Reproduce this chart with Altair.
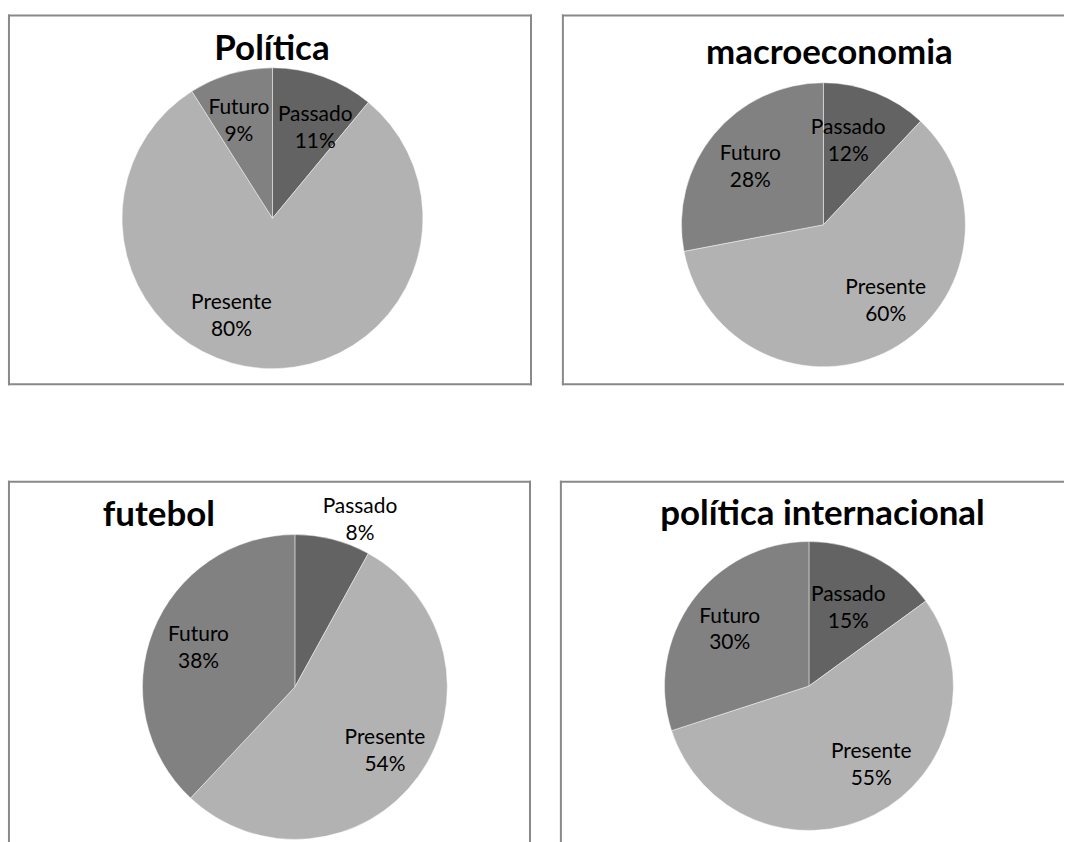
import altair as alt
import pandas as pd

# ---- data ----
titles = ["Política", "macroeconomia", "futebol", "política internacional"]
categories = ["Passado", "Presente", "Futuro"]
politica = [11, 80, 9]
macroeconomia = [12, 60, 28]
futebol = [8, 54, 38]
politica_internacional = [15, 55, 30]
series = [politica, macroeconomia, futebol, politica_internacional]

# ---- style / layout ----
colors = ["#636363", "#b2b2b2", "#818181"]
BORDER = "#898989"
FONT = "Lato"
layout = [
    dict(w=526, h=372, cx=265.5, cy=204.5, r=151, tx=265, ty=46,
         frac=[0.66, 0.71, 0.68], nudge=[5.7, 19, -3], sides=["top", "left", "right", "bottom"]),
    dict(w=504, h=372, cx=262.5, cy=211, r=142.5, tx=268.5, ty=50,
         frac=[0.61, 0.70, 0.65], nudge=[-5, -10, -2], sides=["top", "left", "bottom"]),
    dict(w=525, h=364, cx=288, cy=207, r=153, tx=151.5, ty=45,
         frac=[1.17, 0.73, 0.68], nudge=[7, 0, 0], sides=["top", "left", "right"]),
    dict(w=506, h=364, cx=250, cy=206, r=145, tx=263.5, ty=44,
         frac=[0.60, 0.70, 0.67], nudge=[0, -11, -1], sides=["top", "left"]),
]


def borders(W, H, sides):
    d = pd.DataFrame({"k": [0]})
    rule = dict(color=BORDER, strokeWidth=2, strokeCap="square")
    out = []
    if "top" in sides:
        out.append(alt.Chart(d).mark_rule(**rule).encode(x=alt.value(1), x2=alt.value(W - 1), y=alt.value(1)))
    if "bottom" in sides:
        out.append(alt.Chart(d).mark_rule(**rule).encode(x=alt.value(1), x2=alt.value(W - 1), y=alt.value(H - 1)))
    if "left" in sides:
        out.append(alt.Chart(d).mark_rule(**rule).encode(x=alt.value(1), y=alt.value(1), y2=alt.value(H - 1)))
    if "right" in sides:
        out.append(alt.Chart(d).mark_rule(**rule).encode(x=alt.value(W - 1), y=alt.value(1), y2=alt.value(H - 1)))
    return out


def panel(title, values, L):
    df = pd.DataFrame({
        "cat": categories,
        "value": values,
        "ord": list(range(len(categories))),
        "frac": L["frac"],
        "nudge": L["nudge"],
    })
    base = alt.Chart(df)
    arcs = base.mark_arc(radius=L["r"], stroke="white", strokeWidth=1, strokeOpacity=0.45).encode(
        theta=alt.Theta("value:Q", stack=True),
        order=alt.Order("ord:Q"),
        color=alt.Color("cat:N", scale=alt.Scale(domain=categories, range=colors), legend=None),
        x=alt.value(L["cx"]),
        y=alt.value(L["cy"]),
    )
    cx, cy, r = L["cx"], L["cy"], L["r"]
    labels = base.transform_joinaggregate(
        total="sum(value)"
    ).transform_window(
        cum="sum(value)", sort=[alt.SortField("ord")], frame=[None, 0]
    ).transform_calculate(
        ang="(datum.cum - datum.value/2)/datum.total*2*PI + datum.nudge*PI/180",
        lx=f"{cx} + datum.frac*{r}*sin(datum.ang)",
        ly=f"{cy} - datum.frac*{r}*cos(datum.ang)",
        lab="datum.cat + '\\n' + datum.value + '%'",
    ).mark_text(
        font=FONT, fontSize=21, lineBreak="\n", lineHeight=27, color="black",
        baseline="middle", dy=-14,
    ).encode(
        x=alt.X("lx:Q", scale=None),
        y=alt.Y("ly:Q", scale=None),
        text="lab:N",
    )
    ttl = alt.Chart(pd.DataFrame({"t": [title]})).mark_text(
        font=FONT, fontSize=35, fontWeight="bold", baseline="alphabetic", color="black"
    ).encode(text="t:N", x=alt.value(L["tx"]), y=alt.value(L["ty"]))
    return alt.layer(arcs, labels, ttl, *borders(L["w"], L["h"], L["sides"])).properties(
        width=L["w"], height=L["h"]
    )


panels = [panel(t, v, L) for t, v, L in zip(titles, series, layout)]
row1 = alt.hconcat(panels[0], panels[1], spacing=28)
row2 = alt.hconcat(panels[2], panels[3], spacing=27)
chart = alt.vconcat(row1, row2, spacing=94).properties(
    padding={"left": 7, "top": 12, "right": 0, "bottom": 0},
    background="white",
).configure_view(stroke=None)

chart.save("out.html", embed_options={"renderer": "svg", "actions": False})
